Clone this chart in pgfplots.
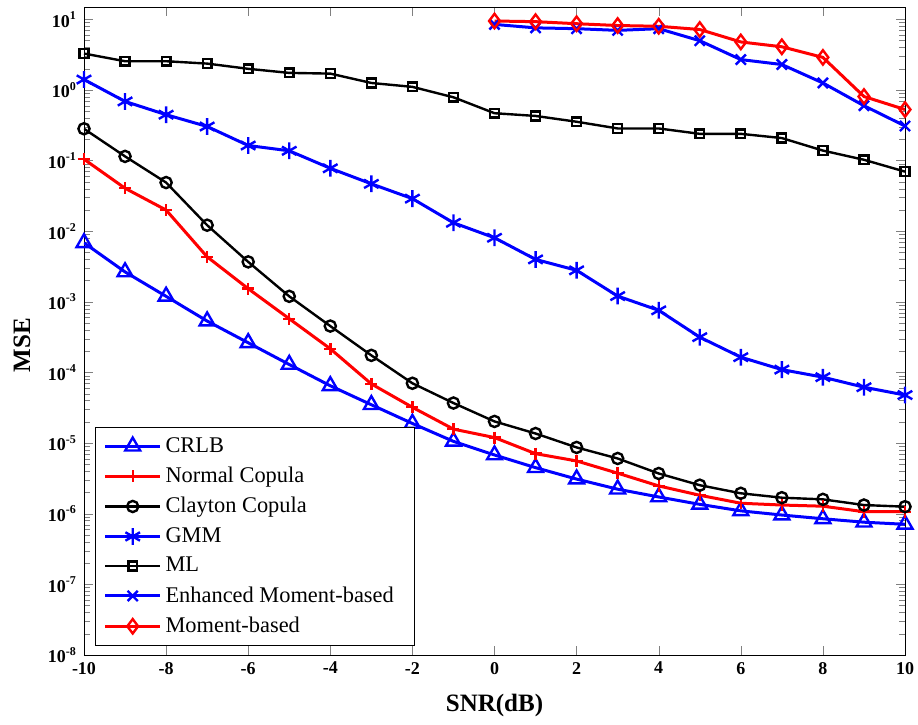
\documentclass[border=0pt]{standalone}
\usepackage{fontspec}
\setmainfont{Liberation Serif}
\usepackage{pgfplots}
\pgfplotsset{compat=1.18}
\begin{document}
\begin{tikzpicture}
\begin{axis}[
  name=ax,
  scale only axis,
  width=410.5pt, height=324pt,
  xmin=-10, xmax=10,
  ymode=log, ymin=1e-8, ymax=15,
  xtick={-10,-8,...,10},
  xticklabels={\textbf{-10},\textbf{-8},\textbf{-6},\textbf{-4},\textbf{-2},\textbf{0},\textbf{2},\textbf{4},\textbf{6},\textbf{8},\textbf{10}},
  ytick={1e-8,1e-7,1e-6,1e-5,1e-4,1e-3,1e-2,1e-1,1,10},
  yticklabels={\textbf{10}\textsuperscript{\textbf{-8}},\textbf{10}\textsuperscript{\textbf{-7}},\textbf{10}\textsuperscript{\textbf{-6}},\textbf{10}\textsuperscript{\textbf{-5}},\textbf{10}\textsuperscript{\textbf{-4}},\textbf{10}\textsuperscript{\textbf{-3}},\textbf{10}\textsuperscript{\textbf{-2}},\textbf{10}\textsuperscript{\textbf{-1}},\textbf{10}\textsuperscript{\textbf{0}},\textbf{10}\textsuperscript{\textbf{1}}},
  tick align=inside,
  tick label style={font=\fontsize{9}{10}\selectfont},
  xlabel={\textbf{SNR(dB)}},
  ylabel={\textbf{MSE}},
  label style={font=\fontsize{12.5}{14}\selectfont},
  xlabel style={at={(axis description cs:0.5,-0.0772)},anchor=center},
  ylabel style={at={(axis description cs:-0.0755,0.478)},anchor=center},
  legend cell align=left,
  legend style={at={(0.014,0.014)},anchor=south west, font=\fontsize{11.2}{13}\selectfont, draw=black, inner xsep=4pt, inner ysep=3pt, row sep=1.9pt},
  legend image code/.code={\draw[mark repeat=2,mark phase=2] plot coordinates {(0cm,0cm) (0.48cm,0cm) (0.96cm,0cm)};},
  every axis plot/.append style={line width=1.5pt, mark options={solid, line width=1.2pt}},
]
\addplot[blue, mark=triangle, mark size=4.3pt] coordinates {
(-10,0.00687) (-9,0.00266) (-8,0.0012) (-7,0.000536) (-6,0.000264) (-5,0.00013) (-4,6.5e-5) (-3,3.5e-5) (-2,1.9e-5) (-1,1.06e-5) (0,6.8e-6) (1,4.5e-6) (2,3.1e-6) (3,2.23e-6) (4,1.73e-6) (5,1.36e-6) (6,1.1e-6) (7,9.6e-7) (8,8.5e-7) (9,7.6e-7) (10,7.1e-7)};
\addlegendentry{CRLB}
\addplot[red, mark=+, mark size=3pt] coordinates {
(-10,0.105) (-9,0.0407) (-8,0.02) (-7,0.00435) (-6,0.00154) (-5,0.000578) (-4,0.000217) (-3,6.9e-5) (-2,3.22e-5) (-1,1.58e-5) (0,1.2e-5) (1,7.1e-6) (2,5.6e-6) (3,3.76e-6) (4,2.48e-6) (5,1.83e-6) (6,1.41e-6) (7,1.33e-6) (8,1.28e-6) (9,1.07e-6) (10,1.07e-6)};
\addlegendentry{Normal Copula}
\addplot[black, line width=1.2pt, mark=o, mark size=2.8pt] coordinates {
(-10,0.283) (-9,0.115) (-8,0.049) (-7,0.0122) (-6,0.00369) (-5,0.0012) (-4,0.000455) (-3,0.000175) (-2,7.05e-5) (-1,3.7e-5) (0,2.03e-5) (1,1.37e-5) (2,8.7e-6) (3,6.07e-6) (4,3.72e-6) (5,2.54e-6) (6,1.95e-6) (7,1.69e-6) (8,1.6e-6) (9,1.33e-6) (10,1.26e-6)};
\addlegendentry{Clayton Copula}
\addplot[blue, mark=asterisk, mark size=4.2pt] coordinates {
(-10,1.41) (-9,0.69) (-8,0.448) (-7,0.305) (-6,0.164) (-5,0.138) (-4,0.078) (-3,0.047) (-2,0.029) (-1,0.0132) (0,0.0081) (1,0.004) (2,0.0028) (3,0.00121) (4,0.00076) (5,0.000317) (6,0.000165) (7,0.00011) (8,8.6e-5) (9,6.2e-5) (10,4.8e-5)};
\addlegendentry{GMM}
\addplot[black, line width=1.2pt, mark=square, mark size=2.2pt] coordinates {
(-10,3.29) (-9,2.56) (-8,2.56) (-7,2.37) (-6,2.0) (-5,1.75) (-4,1.71) (-3,1.26) (-2,1.11) (-1,0.79) (0,0.47) (1,0.43) (2,0.356) (3,0.286) (4,0.286) (5,0.24) (6,0.24) (7,0.209) (8,0.139) (9,0.103) (10,0.07)};
\addlegendentry{ML}
\addplot[blue, mark=x, mark size=3.6pt] coordinates {
(0,8.5) (1,7.6) (2,7.4) (3,7.0) (4,7.4) (5,5.0) (6,2.7) (7,2.3) (8,1.26) (9,0.6) (10,0.31)};
\addlegendentry{Enhanced Moment-based\hspace*{4.5pt}}
\addplot[red, mark=diamond, mark size=3.6pt] coordinates {
(0,9.5) (1,9.3) (2,8.7) (3,8.2) (4,8.0) (5,7.2) (6,4.8) (7,4.1) (8,2.9) (9,0.81) (10,0.53)};
\addlegendentry{Moment-based}
\end{axis}
\pgfresetboundingbox
\path[use as bounding box] ([xshift=-42pt,yshift=-34.5pt]ax.south west) rectangle ([xshift=6.5pt,yshift=3.5pt]ax.north east);
\end{tikzpicture}
\end{document}
